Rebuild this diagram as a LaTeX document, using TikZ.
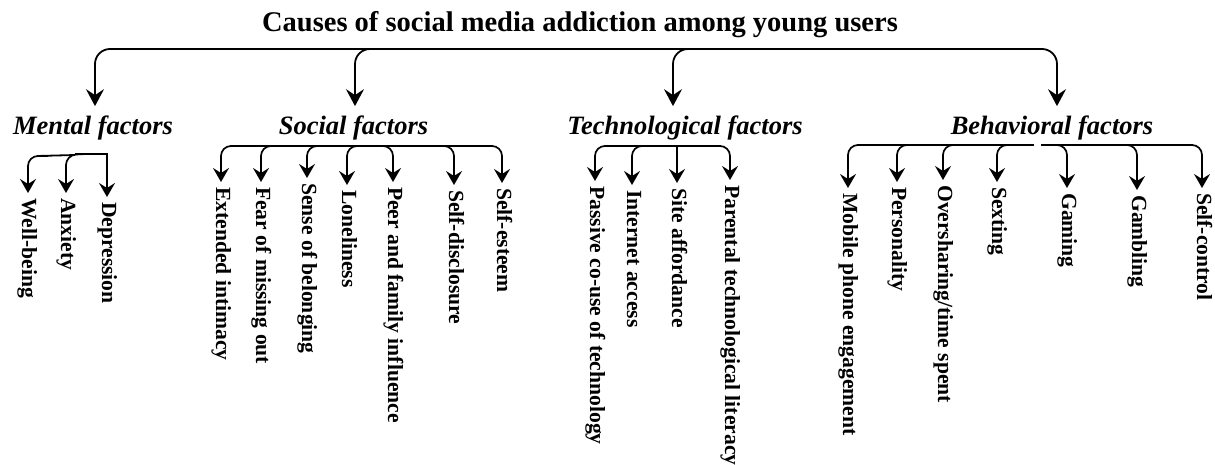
\documentclass[tikz,border=0pt]{standalone}
\usepackage{fontspec}
\setmainfont{Liberation Serif}
\usetikzlibrary{arrows.meta,calc}
\begin{document}
\begin{tikzpicture}[x=1pt,y=-1pt,
  busline/.style={line width=1.8pt},
  mainarrow/.style={line width=1.8pt, rounded corners=15pt,
    -{Stealth[length=17pt,width=18pt,inset=6pt]}, shorten >=10pt},
  subarrow/.style={line width=1.7pt, rounded corners=10pt,
    -{Stealth[length=14pt,width=16pt,inset=5pt]}, shorten >=5pt},
  titlebox/.style={font=\fontsize{28.5}{34}\selectfont\bfseries, anchor=base, inner sep=0pt},
  catbox/.style={font=\fontsize{26.5}{32}\selectfont\bfseries\itshape, anchor=base, inner sep=0pt},
  leafbox/.style={font=\fontsize{21.6}{26}\selectfont\bfseries, rotate=-90, anchor=base west, inner sep=0pt}]

\fill[white] (0,0) rectangle (1215,465);
\useasboundingbox (0,0) rectangle (1215,465);

% title and the four groups
\node[titlebox] (T) at (580,32) {Causes of social media addiction among young users};
\node[catbox] (M)  at (93,135)   {Mental factors};
\node[catbox] (S)  at (353.5,135) {Social factors};
\node[catbox] (Te) at (685,135)  {Technological factors};
\node[catbox] (B)  at (1052,135) {Behavioral factors};

% top bus
\coordinate (jM)  at (95,49);
\coordinate (jS)  at (355,49);
\coordinate (jTe) at (673,49);
\coordinate (jB)  at (1057,49);
\draw[busline] ($(jM)+(14,0)$) -- ($(jB)+(-14,0)$);
\draw[mainarrow] ($(jM)+(30,0)$)  -- (jM)  -- (jM |- M.north);
\draw[mainarrow] ($(jS)+(30,0)$)  -- (jS)  -- (jS |- S.north);
\draw[mainarrow] ($(jTe)+(30,0)$) -- (jTe) -- (jTe |- Te.north);
\draw[mainarrow] ($(jB)+(-30,0)$) -- (jB)  -- (jB |- B.north);

% mental factors
\node[leafbox] (WB)  at (28-6,198)  {Well-being};
\node[leafbox] (Anx) at (66-5,198)  {Anxiety};
\node[leafbox] (Dep) at (107-5,202) {Depression};
\coordinate (jWB)  at (28,156);
\coordinate (jAnx) at (66,155);
\coordinate (jDep) at (107,154);
\draw[subarrow] ($(jWB)+(20,0)$)  -- (jWB)  -- (jWB |- WB.west);
\draw[subarrow] ($(jAnx)+(20,-1)$) -- (jAnx) -- (jAnx |- Anx.west);
\draw[subarrow, sharp corners] ($(jDep)+(-20,0)$) -- (jDep) -- (jDep |- Dep.west);
\draw[busline] ($(jWB)+(9,0)$) -- ($(jAnx)+(9,0)$);
\draw[busline] ($(jAnx)+(9,-1)$) -- (jDep);

% social factors
\node[leafbox] (Ext)  at (221-5,187) {Extended intimacy};
\node[leafbox] (Fomo) at (261-5,187) {Fear of missing out};
\node[leafbox] (Bel)  at (307-5,183) {Sense of belonging};
\node[leafbox] (Lon)  at (347-5,190) {Loneliness};
\node[leafbox] (Peer) at (393-5,187) {Peer and family influence};
\node[leafbox] (SDis) at (454-5,190) {Self-disclosure};
\node[leafbox] (SEst) at (502-5,188) {Self-esteem};
\coordinate (jExt)  at (221,146);
\coordinate (jFomo) at (261,146);
\coordinate (jBel)  at (307,146);
\coordinate (jLon)  at (347,146);
\coordinate (jPeer) at (393,146);
\coordinate (jSDis) at (454,146);
\coordinate (jSEst) at (502,146);
\draw[busline] ($(jExt)+(9,0)$) -- ($(jSEst)+(-9,0)$);
\draw[subarrow] ($(jExt)+(20,0)$)   -- (jExt)  -- (jExt |- Ext.west);
\draw[subarrow] ($(jFomo)+(20,0)$)  -- (jFomo) -- (jFomo |- Fomo.west);
\draw[subarrow] ($(jBel)+(20,0)$)   -- (jBel)  -- (jBel |- Bel.west);
\draw[subarrow] ($(jLon)+(20,0)$)   -- (jLon)  -- (jLon |- Lon.west);
\draw[subarrow] ($(jPeer)+(-20,0)$) -- (jPeer) -- (jPeer |- Peer.west);
\draw[subarrow] ($(jSDis)+(-20,0)$) -- (jSDis) -- (jSDis |- SDis.west);
\draw[subarrow] ($(jSEst)+(-20,0)$) -- (jSEst) -- (jSEst |- SEst.west);

% technological factors
\node[leafbox] (Pas)  at (595-5,186) {Passive co-use of technology};
\node[leafbox] (Int)  at (632-5,190) {Internet access};
\node[leafbox] (Site) at (677-5,188) {Site affordance};
\node[leafbox] (Par)  at (730-5,185) {Parental technological literacy};
\coordinate (jPas)  at (595,146);
\coordinate (jInt)  at (632,146);
\coordinate (jSite) at (677,146);
\coordinate (jPar)  at (730,146);
\draw[busline] ($(jPas)+(9,0)$) -- ($(jPar)+(-9,0)$);
\draw[subarrow] ($(jPas)+(20,0)$)  -- (jPas) -- (jPas |- Pas.west);
\draw[subarrow] ($(jInt)+(20,0)$)  -- (jInt) -- (jInt |- Int.west);
\draw[subarrow] (jSite) -- (jSite |- Site.west);
\draw[subarrow] ($(jPar)+(-20,0)$) -- (jPar) -- (jPar |- Par.west);

% behavioral factors
\node[leafbox] (Mob)  at (848-5,193)  {Mobile phone engagement};
\node[leafbox] (Pers) at (897-5,187)  {Personality};
\node[leafbox] (Over) at (943-5,185)  {Oversharing/time spent};
\node[leafbox] (Sext) at (997-5,187)  {Sexting};
\node[leafbox] (Gam)  at (1067-5,193) {Gaming};
\node[leafbox] (Gamb) at (1137-5,195) {Gambling};
\node[leafbox] (SCtl) at (1202-5,193) {Self-control};
\coordinate (jMob)  at (848,145);
\coordinate (jPers) at (897,145);
\coordinate (jOver) at (943,145);
\coordinate (jSext) at (997,145);
\coordinate (jGam)  at (1067,145);
\coordinate (jGamb) at (1137,145);
\coordinate (jSCtl) at (1202,145);
\coordinate (gapL) at (1034,145);
\coordinate (gapR) at (1041,145);
\draw[busline] ($(jMob)+(9,0)$) -- (gapL);
\draw[busline] (gapR) -- ($(jSCtl)+(-9,0)$);
\draw[subarrow] ($(jMob)+(20,0)$)   -- (jMob)  -- (jMob |- Mob.west);
\draw[subarrow] ($(jPers)+(20,0)$)  -- (jPers) -- (jPers |- Pers.west);
\draw[subarrow] ($(jOver)+(20,0)$)  -- (jOver) -- (jOver |- Over.west);
\draw[subarrow] ($(jSext)+(20,0)$)  -- (jSext) -- (jSext |- Sext.west);
\draw[subarrow] ($(jGam)+(-20,0)$)  -- (jGam)  -- (jGam |- Gam.west);
\draw[subarrow] ($(jGamb)+(-20,0)$) -- (jGamb) -- (jGamb |- Gamb.west);
\draw[subarrow] ($(jSCtl)+(-20,0)$) -- (jSCtl) -- (jSCtl |- SCtl.west);
\end{tikzpicture}
\end{document}
